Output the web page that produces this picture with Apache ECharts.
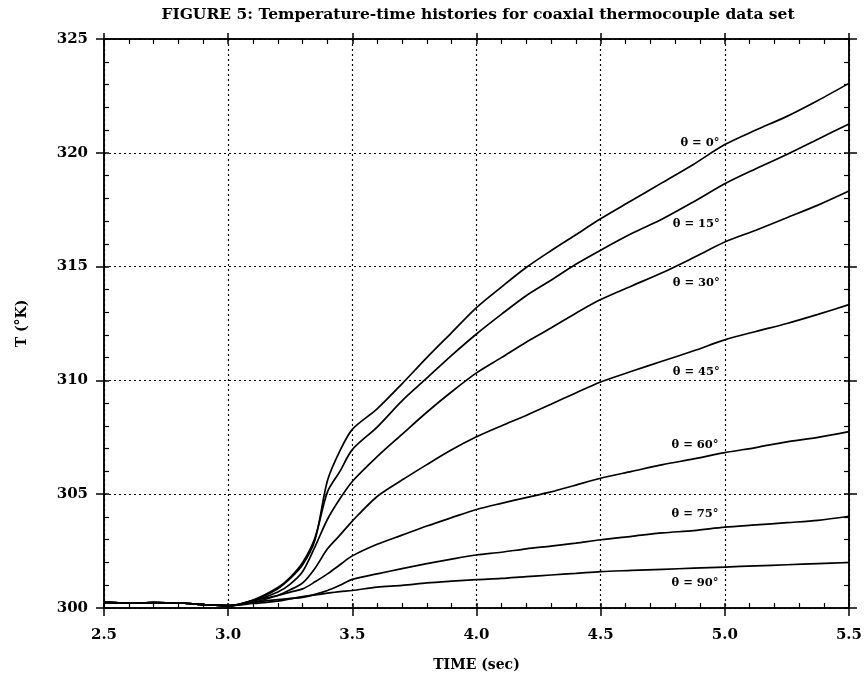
<!DOCTYPE html>
<html>
<head>
<meta charset="utf-8">
<script src="https://cdn.jsdelivr.net/npm/echarts@6/dist/echarts.min.js"></script>
<style>
  html, body { margin: 0; padding: 0; background: #fff; }
  #chart { width: 865px; height: 681px; }
</style>
</head>
<body>
<div id="chart"></div>
<script>
// ---- data ----
const timeSec = [2.5, 2.6, 2.7, 2.8, 2.9, 3.0, 3.1, 3.2, 3.25, 3.3, 3.35, 3.4, 3.45, 3.5, 3.6, 3.7, 3.8, 3.9, 4.0, 4.1, 4.2, 4.3, 4.4, 4.5, 4.625, 4.75, 4.875, 5.0, 5.125, 5.25, 5.375, 5.5];

const theta0  = [300.25, 300.22, 300.24, 300.22, 300.15, 300.1, 300.33, 300.85, 301.3, 301.9, 303.0, 305.6, 306.9, 307.85, 308.75, 309.85, 311.0, 312.1, 313.2, 314.1, 314.96, 315.7, 316.4, 317.1, 317.9, 318.7, 319.5, 320.36, 321.0, 321.6, 322.3, 323.05];
const theta15 = [300.25, 300.22, 300.24, 300.22, 300.15, 300.1, 300.35, 300.9, 301.35, 302.0, 303.1, 305.1, 306.0, 306.96, 307.95, 309.1, 310.1, 311.1, 312.04, 312.9, 313.72, 314.4, 315.1, 315.72, 316.45, 317.1, 317.85, 318.64, 319.3, 319.93, 320.6, 321.27];
const theta30 = [300.25, 300.22, 300.24, 300.22, 300.15, 300.1, 300.3, 300.7, 301.05, 301.6, 302.7, 303.9, 304.8, 305.56, 306.65, 307.63, 308.6, 309.5, 310.33, 311.0, 311.68, 312.3, 312.95, 313.55, 314.15, 314.74, 315.4, 316.08, 316.6, 317.15, 317.7, 318.32];
const theta45 = [300.25, 300.22, 300.24, 300.22, 300.15, 300.1, 300.25, 300.55, 300.8, 301.1, 301.75, 302.6, 303.2, 303.82, 304.9, 305.62, 306.3, 306.95, 307.52, 308.0, 308.46, 308.95, 309.45, 309.93, 310.4, 310.85, 311.3, 311.78, 312.15, 312.5, 312.9, 313.33];
const theta60 = [300.25, 300.22, 300.24, 300.22, 300.15, 300.1, 300.33, 300.55, 300.7, 300.84, 301.15, 301.5, 301.9, 302.29, 302.8, 303.2, 303.6, 303.97, 304.33, 304.6, 304.85, 305.1, 305.4, 305.7, 306.0, 306.3, 306.55, 306.83, 307.05, 307.3, 307.5, 307.75];
const theta75 = [300.25, 300.22, 300.24, 300.22, 300.15, 300.1, 300.25, 300.37, 300.42, 300.47, 300.6, 300.77, 301.0, 301.26, 301.5, 301.73, 301.95, 302.15, 302.33, 302.45, 302.6, 302.72, 302.85, 303.0, 303.15, 303.3, 303.4, 303.55, 303.65, 303.75, 303.85, 304.03];
const theta90 = [300.25, 300.22, 300.24, 300.22, 300.15, 300.1, 300.2, 300.3, 300.4, 300.5, 300.57, 300.65, 300.72, 300.77, 300.92, 300.99, 301.1, 301.18, 301.25, 301.3, 301.38, 301.45, 301.52, 301.6, 301.65, 301.7, 301.75, 301.8, 301.85, 301.9, 301.95, 302.0];

const seriesNames = ['θ = 0°', 'θ = 15°', 'θ = 30°', 'θ = 45°', 'θ = 60°', 'θ = 75°', 'θ = 90°'];
const seriesValues = [theta0, theta15, theta30, theta45, theta60, theta75, theta90];

const xTickLabels = ['2.5', '3.0', '3.5', '4.0', '4.5', '5.0', '5.5'];
const yTickLabels = ['300', '305', '310', '315', '320', '325'];

const titleText = 'FIGURE 5: Temperature-time histories for coaxial thermocouple data set';
const xName = 'TIME (sec)';
const yName = 'T (°K)';

// ---- chart ----
const FONT = '"DejaVu Serif", "Liberation Serif", serif';
const chart = echarts.init(document.getElementById('chart'), null, { renderer: 'canvas' });

// label anchor positions (data space) for the curve annotations
const labelAnchorT = [4.9, 4.885, 4.885, 4.885, 4.88, 4.88, 4.88];
const labelAnchorV = [320.45, 316.85, 314.3, 310.35, 307.15, 304.15, 301.1];

const series = seriesValues.map((vals, i) => ({
  name: seriesNames[i],
  type: 'line',
  xAxisIndex: 0,
  yAxisIndex: 0,
  data: timeSec.map((t, k) => [t, vals[k]]),
  showSymbol: false,
  symbol: 'none',
  smooth: 0.3,
  lineStyle: { color: '#000', width: 1.7 },
  z: 3,
  markPoint: {
    symbol: 'circle',
    symbolSize: 0,
    silent: true,
    label: {
      show: true,
      formatter: seriesNames[i],
      color: '#000',
      fontFamily: FONT,
      fontWeight: 'bold',
      fontSize: 11.5,
      position: 'inside'
    },
    data: [{ coord: [labelAnchorT[i], labelAnchorV[i]] }]
  }
}));

function xAxisBase(extra) {
  return Object.assign({
    type: 'value', min: 2.5, max: 5.5, interval: 0.5,
    axisLine: { show: true, onZero: false, lineStyle: { color: '#000', width: 1.5 } },
    splitLine: { show: false },
    axisLabel: { show: false },
    axisTick: { show: false },
    minorTick: { show: false }
  }, extra);
}
function yAxisBase(extra) {
  return Object.assign({
    type: 'value', min: 300, max: 325, interval: 5,
    axisLine: { show: true, onZero: false, lineStyle: { color: '#000', width: 1.5 } },
    splitLine: { show: false },
    axisLabel: { show: false },
    axisTick: { show: false },
    minorTick: { show: false }
  }, extra);
}

const option = {
  animation: false,
  backgroundColor: '#fff',
  grid: { left: 104, right: 14, top: 39, bottom: 73, containLabel: false },
  graphic: [{
    type: 'text',
    x: 478, y: 15,
    style: {
      text: titleText,
      font: 'bold 15.5px ' + FONT,
      fill: '#000',
      align: 'center', verticalAlign: 'middle',
      textAlign: 'center', textVerticalAlign: 'middle'
    }
  }],
  xAxis: [
    xAxisBase({
      position: 'bottom',
      name: xName, nameLocation: 'middle', nameGap: 50,
      nameTextStyle: { fontFamily: FONT, fontWeight: 'bold', fontSize: 14, color: '#000' },
      axisLabel: {
        show: true, margin: 20, color: '#000', fontFamily: FONT, fontWeight: 'bold', fontSize: 15,
        formatter: (v) => { const i = Math.round((v - 2.5) / 0.5); return xTickLabels[i] || ''; }
      },
      axisTick: { show: true, inside: false, length: 8, lineStyle: { color: '#000', width: 1.5 } },
      splitLine: { show: true, lineStyle: { color: '#000', width: 1.2, type: [2, 3] } }
    }),
    xAxisBase({
      position: 'bottom',
      axisTick: { show: true, inside: true, length: 5, lineStyle: { color: '#000', width: 1.5 } },
      minorTick: { show: true, splitNumber: 5, length: 5, lineStyle: { color: '#000', width: 1.2 } }
    }),
    xAxisBase({
      position: 'top',
      axisTick: { show: true, inside: true, length: 5, lineStyle: { color: '#000', width: 1.5 } },
      minorTick: { show: true, splitNumber: 5, length: 5, lineStyle: { color: '#000', width: 1.2 } }
    }),
    xAxisBase({
      position: 'top',
      axisTick: { show: true, inside: false, length: 6, lineStyle: { color: '#000', width: 1.5 } }
    })
  ],
  yAxis: [
    yAxisBase({
      position: 'left',
      name: yName, nameLocation: 'middle', nameGap: 75, nameRotate: 90,
      nameTextStyle: { fontFamily: FONT, fontWeight: 'bold', fontSize: 14, color: '#000' },
      axisLabel: {
        show: true, margin: 16, color: '#000', fontFamily: FONT, fontWeight: 'bold', fontSize: 15,
        formatter: (v) => { const i = Math.round((v - 300) / 5); return yTickLabels[i] || ''; }
      },
      axisTick: { show: true, inside: false, length: 8, lineStyle: { color: '#000', width: 1.5 } },
      splitLine: { show: true, lineStyle: { color: '#000', width: 1.2, type: [2, 3] } }
    }),
    yAxisBase({
      position: 'left',
      axisTick: { show: true, inside: true, length: 5, lineStyle: { color: '#000', width: 1.5 } },
      minorTick: { show: true, splitNumber: 5, length: 5, lineStyle: { color: '#000', width: 1.2 } }
    }),
    yAxisBase({
      position: 'right',
      axisTick: { show: true, inside: true, length: 5, lineStyle: { color: '#000', width: 1.5 } },
      minorTick: { show: true, splitNumber: 5, length: 5, lineStyle: { color: '#000', width: 1.2 } }
    }),
    yAxisBase({
      position: 'right',
      axisTick: { show: true, inside: false, length: 8, lineStyle: { color: '#000', width: 1.5 } }
    })
  ],
  series: series
};

chart.setOption(option);
</script>
</body>
</html>
